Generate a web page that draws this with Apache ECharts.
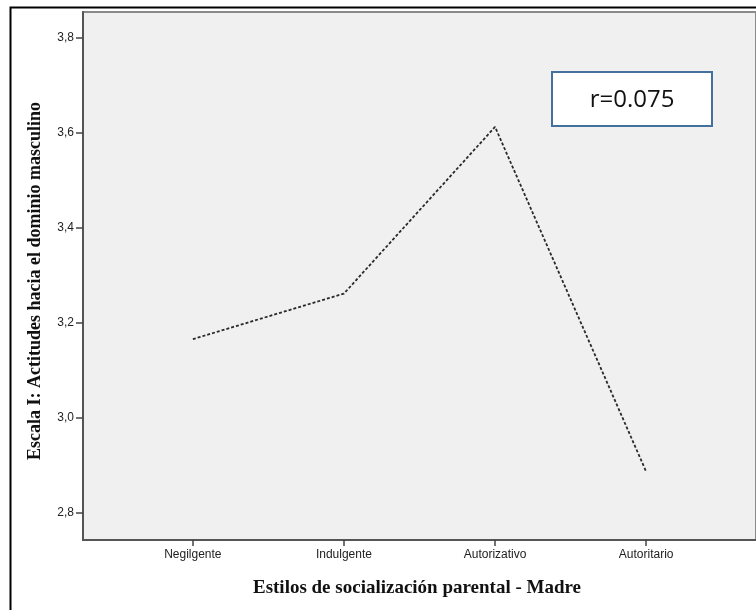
<!DOCTYPE html>
<html><head><meta charset="utf-8">
<script src="https://cdn.jsdelivr.net/npm/echarts@6/dist/echarts.min.js"></script>
<style>html,body{margin:0;padding:0;background:#fff}#c{width:756px;height:610px}</style>
</head><body><div id="c"></div>
<script>
const categories = ['Negilgente', 'Indulgente', 'Autorizativo', 'Autoritario'];
const values = [3.166, 3.262, 3.613, 2.887];
const yTicks = [2.8, 3.0, 3.2, 3.4, 3.6, 3.8];
const yTitle = 'Escala I: Actitudes hacia el dominio masculino';
const xTitle = 'Estilos de socialización parental - Madre';
const annotation = 'r=0.075';

const chart = echarts.init(document.getElementById('c'), null, {renderer: 'canvas'});
chart.setOption({
  animation: false,
  backgroundColor: '#fff',
  grid: {left: 83, top: 12, right: 0, bottom: 70, show: true, backgroundColor: '#F0F0F0', borderColor: '#8a8a8a', borderWidth: 2},
  xAxis: {
    type: 'value', min: -0.727, max: 3.727,
    axisLine: {show: true, onZero: false, lineStyle: {color: '#555', width: 2}},
    axisTick: {show: true, customValues: categories.map((c, i) => i), length: 6, lineStyle: {color: '#444', width: 1.5}},
    axisLabel: {customValues: categories.map((c, i) => i), formatter: v => categories[Math.round(v)] || '', color: '#222', fontFamily: 'Liberation Sans', fontSize: 12, margin: 9},
    splitLine: {show: false}
  },
  yAxis: {
    type: 'value', min: 2.743, max: 3.855,
    axisLine: {show: true, onZero: false, lineStyle: {color: '#555', width: 2}},
    axisTick: {show: true, customValues: yTicks, length: 7, lineStyle: {color: '#444', width: 1.5}},
    axisLabel: {customValues: yTicks, formatter: v => v.toFixed(1).replace('.', ','), color: '#222', fontFamily: 'Liberation Sans', fontSize: 12, margin: 9},
    splitLine: {show: false}
  },
  series: [{
    type: 'line',
    data: values.map((v, i) => [i, v]),
    symbol: 'none',
    lineStyle: {color: '#2a2a2a', width: 1.8, type: [3, 2]}
  }],
  graphic: [
    {type: 'rect', left: 8, top: 5, shape: {width: 760, height: 620}, style: {fill: 'none', stroke: '#000', lineWidth: 2}, z: 100},
    {type: 'text', x: 35, y: 281, rotation: Math.PI / 2, style: {text: yTitle, font: 'bold 18px "Liberation Serif"', fill: '#111', textAlign: 'center', textVerticalAlign: 'middle'}},
    {type: 'text', x: 417, y: 588, style: {text: xTitle, font: 'bold 19px "Liberation Serif"', fill: '#111', textAlign: 'center', textVerticalAlign: 'middle'}},
    {type: 'rect', shape: {x: 552, y: 72, width: 160, height: 54}, style: {fill: '#fff', stroke: '#41719C', lineWidth: 2}, z: 50},
    {type: 'text', x: 632, y: 100, z: 51, style: {text: annotation, font: '24px "Open Sans"', fill: '#111', textAlign: 'center', textVerticalAlign: 'middle'}}
  ]
});
</script></body></html>
